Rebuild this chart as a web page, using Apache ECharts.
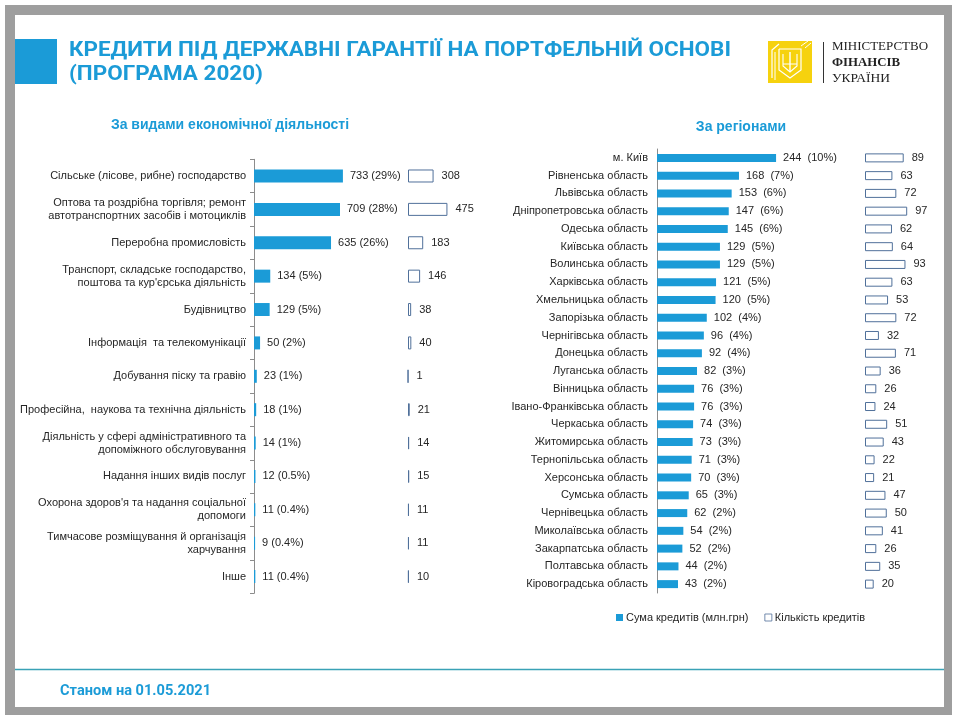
<!DOCTYPE html>
<html>
<head>
<meta charset="utf-8">
<script src="https://cdn.jsdelivr.net/npm/echarts@6/dist/echarts.min.js"></script>
<style>
html,body{margin:0;padding:0;background:#fff;}
#main{width:960px;height:720px;}
</style>
</head>
<body>
<div id="main"></div>
<script>
// ---------- DATA ----------
const sectorNames = [
  'Сільське (лісове, рибне) господарство',
  'Оптова та роздрібна торгівля; ремонт\nавтотранспортних засобів і мотоциклів',
  'Переробна промисловість',
  'Транспорт, складське господарство,\nпоштова та кур\'єрська діяльність',
  'Будівництво',
  'Інформація  та телекомунікації',
  'Добування піску та гравію',
  'Професійна,  наукова та технічна діяльність',
  'Діяльність у сфері адміністративного та\nдопоміжного обслуговування',
  'Надання інших видів послуг',
  'Охорона здоров\'я та надання соціальної\nдопомоги',
  'Тимчасове розміщування й організація\nхарчування',
  'Інше'
];
const sectorSums = [733, 709, 635, 134, 129, 50, 23, 18, 14, 12, 11, 9, 11];
const sectorShares = ['29%', '28%', '26%', '5%', '5%', '2%', '1%', '1%', '1%', '0.5%', '0.4%', '0.4%', '0.4%'];
const sectorCounts = [308, 475, 183, 146, 38, 40, 1, 21, 14, 15, 11, 11, 10];

const regionNames = [
  'м. Київ', 'Рівненська область', 'Львівська область', 'Дніпропетровська область',
  'Одеська область', 'Київська область', 'Волинська область', 'Харківська область',
  'Хмельницька область', 'Запорізька область', 'Чернігівська область', 'Донецька область',
  'Луганська область', 'Вінницька область', 'Івано-Франківська область', 'Черкаська область',
  'Житомирська область', 'Тернопільська область', 'Херсонська область', 'Сумська область',
  'Чернівецька область', 'Миколаївська область', 'Закарпатська область', 'Полтавська область',
  'Кіровоградська область'
];
const regionSums = [244, 168, 153, 147, 145, 129, 129, 121, 120, 102, 96, 92, 82, 76, 76, 74, 73, 71, 70, 65, 62, 54, 52, 44, 43];
const regionShares = ['10%', '7%', '6%', '6%', '6%', '5%', '5%', '5%', '5%', '4%', '4%', '4%', '3%', '3%', '3%', '3%', '3%', '3%', '3%', '3%', '2%', '2%', '2%', '2%', '2%'];
const regionCounts = [89, 63, 72, 97, 62, 64, 93, 63, 53, 72, 32, 71, 36, 26, 24, 51, 43, 22, 21, 47, 50, 41, 26, 35, 20];

const seriesNames = ['Сума кредитів (млн.грн)', 'Кількість кредитів'];
const mainTitle = ['КРЕДИТИ ПІД ДЕРЖАВНІ ГАРАНТІЇ НА ПОРТФЕЛЬНІЙ ОСНОВІ', '(ПРОГРАМА 2020)'];
const leftSubtitle = 'За видами економічної діяльності';
const rightSubtitle = 'За регіонами';
const footerText = 'Станом на 01.05.2021';
const logoLines = ['МІНІСТЕРСТВО', 'ФІНАНСІВ', 'УКРАЇНИ'];

// ---------- STYLE ----------
const BLUE = '#1b9bd7';
const HOLLOW = '#50709a';
const TXT = '#262626';
const AXIS = '#8c8c8c';
const FONT = '"Liberation Sans", Arial, sans-serif';

const mctx = document.createElement('canvas').getContext('2d');
function fit(text, font, target) { mctx.font = font; return target / mctx.measureText(text).width; }

const titleFont = 'bold 21px Roboto';
const titleScale = fit(mainTitle[0], titleFont, 662);
const footFont = 'bold 15px Roboto';
const footScale = fit(footerText, footFont, 151);
const serif = '13px "Liberation Serif", serif';
const serifB = 'bold 13px "Liberation Serif", serif';

const chart = echarts.init(document.getElementById('main'), null, {renderer: 'canvas'});

const labelBase = {fontSize: 11, color: TXT, fontFamily: FONT};

const option = {
  animation: false,
  backgroundColor: '#fff',
  textStyle: {fontFamily: FONT},
  grid: [
    {left: 254, top: 159.3, width: 121.3, height: 434},
    {left: 408, top: 159.3, width: 83, height: 434},
    {left: 657, top: 149, width: 146.4, height: 444},
    {left: 865, top: 149, width: 43.5, height: 444}
  ],
  xAxis: [
    {gridIndex: 0, type: 'value', min: 0, max: 1000, show: false},
    {gridIndex: 1, type: 'value', min: 0, max: 1000, show: false},
    {gridIndex: 2, type: 'value', min: 0, max: 300, show: false},
    {gridIndex: 3, type: 'value', min: 0, max: 100, show: false}
  ],
  yAxis: [
    {gridIndex: 0, type: 'category', data: sectorNames, inverse: true,
      axisLine: {show: true, lineStyle: {color: AXIS}},
      axisTick: {show: true, length: 4, lineStyle: {color: AXIS}},
      axisLabel: {fontSize: 11, color: TXT, margin: 8, lineHeight: 13, fontFamily: FONT}},
    {gridIndex: 1, type: 'category', data: sectorNames, inverse: true, show: false},
    {gridIndex: 2, type: 'category', data: regionNames, inverse: true,
      axisLine: {show: true, lineStyle: {color: AXIS}},
      axisTick: {show: false},
      axisLabel: {fontSize: 11, color: TXT, margin: 9, fontFamily: FONT}},
    {gridIndex: 3, type: 'category', data: regionNames, inverse: true, show: false}
  ],
  legend: {
    data: [
      {name: seriesNames[0], itemStyle: {color: BLUE, borderWidth: 0}},
      {name: seriesNames[1], itemStyle: {color: '#fff', borderColor: HOLLOW, borderWidth: 0.8}}
    ],
    left: 616, top: 612, padding: 0,
    itemWidth: 7, itemHeight: 7, itemGap: 16, icon: 'rect',
    textStyle: {fontSize: 11, color: TXT, fontFamily: FONT, padding: [0, 0, 0, -2]}
  },
  series: [
    {type: 'bar', name: seriesNames[0], xAxisIndex: 0, yAxisIndex: 0, data: sectorSums, barWidth: 13,
      itemStyle: {color: BLUE},
      label: Object.assign({show: true, position: 'right', distance: 7,
        formatter: p => p.value + ' (' + sectorShares[p.dataIndex] + ')'}, labelBase)},
    {type: 'bar', name: seriesNames[1], xAxisIndex: 1, yAxisIndex: 1, data: sectorCounts, barWidth: 13,
      itemStyle: {color: '#fff', borderColor: HOLLOW, borderWidth: 1},
      label: Object.assign({show: true, position: 'right', distance: 8}, labelBase)},
    {type: 'bar', name: seriesNames[0], xAxisIndex: 2, yAxisIndex: 2, data: regionSums, barWidth: 8,
      itemStyle: {color: BLUE},
      label: Object.assign({show: true, position: 'right', distance: 7,
        formatter: p => p.value + '  (' + regionShares[p.dataIndex] + ')'}, labelBase)},
    {type: 'bar', name: seriesNames[1], xAxisIndex: 3, yAxisIndex: 3, data: regionCounts, barWidth: 9,
      itemStyle: {color: '#fff', borderColor: HOLLOW, borderWidth: 1},
      label: Object.assign({show: true, position: 'right', distance: 8}, labelBase)}
  ],
  graphic: [
    // frame
    {type: 'rect', shape: {x: 5, y: 5, width: 10, height: 710}, style: {fill: '#9e9e9e'}, silent: true},
    {type: 'rect', shape: {x: 944, y: 5, width: 8, height: 710}, style: {fill: '#9e9e9e'}, silent: true},
    {type: 'rect', shape: {x: 5, y: 5, width: 947, height: 10}, style: {fill: '#9e9e9e'}, silent: true},
    {type: 'rect', shape: {x: 5, y: 707, width: 947, height: 8}, style: {fill: '#9e9e9e'}, silent: true},
    // title block
    {type: 'rect', shape: {x: 15, y: 39, width: 42, height: 45}, style: {fill: BLUE}},
    {type: 'text', x: 69, y: 51, scaleX: titleScale, style: {text: mainTitle[0], font: titleFont, fill: BLUE, verticalAlign: 'middle'}},
    {type: 'text', x: 69, y: 75, scaleX: titleScale, style: {text: mainTitle[1], font: titleFont, fill: BLUE, verticalAlign: 'middle'}},
    // logo
    {type: 'rect', shape: {x: 768, y: 41, width: 44, height: 42}, style: {fill: '#f6d20e'}},
    {type: 'polyline', shape: {points: [[772, 78], [772, 50], [779, 44]]}, style: {stroke: '#fff', lineWidth: 1.2, fill: null}},
    {type: 'polyline', shape: {points: [[775, 80], [775, 52]]}, style: {stroke: '#fff', lineWidth: 1, fill: null}},
    {type: 'polyline', shape: {points: [[801, 46], [808, 41]]}, style: {stroke: '#fff', lineWidth: 1, fill: null}},
    {type: 'polyline', shape: {points: [[805, 48], [811, 43]]}, style: {stroke: '#fff', lineWidth: 1, fill: null}},
    {type: 'polyline', shape: {points: [[779, 49], [801, 49], [801, 70], [790, 78], [779, 70], [779, 49]]}, style: {stroke: '#fff', lineWidth: 1.2, fill: null}},
    {type: 'polyline', shape: {points: [[790, 52], [790, 72]]}, style: {stroke: '#fff', lineWidth: 1.4, fill: null}},
    {type: 'polyline', shape: {points: [[783, 54], [783, 66], [790, 72], [797, 66], [797, 54]]}, style: {stroke: '#fff', lineWidth: 1.1, fill: null}},
    {type: 'polyline', shape: {points: [[783, 64], [797, 64]]}, style: {stroke: '#fff', lineWidth: 1, fill: null}},
    {type: 'line', shape: {x1: 823.5, y1: 42, x2: 823.5, y2: 83}, style: {stroke: '#333', lineWidth: 1}},
    {type: 'text', x: 832, y: 47, scaleX: fit(logoLines[0], serif, 96), style: {text: logoLines[0], font: serif, fill: '#222', verticalAlign: 'middle'}},
    {type: 'text', x: 832, y: 63, scaleX: fit(logoLines[1], serifB, 68), style: {text: logoLines[1], font: serifB, fill: '#222', verticalAlign: 'middle'}},
    {type: 'text', x: 832, y: 79, scaleX: fit(logoLines[2], serif, 58), style: {text: logoLines[2], font: serif, fill: '#222', verticalAlign: 'middle'}},
    // subtitles
    {type: 'text', x: 230, y: 125, style: {text: leftSubtitle, font: 'bold 14px ' + FONT, fill: BLUE, align: 'center', verticalAlign: 'middle'}},
    {type: 'text', x: 741, y: 127, style: {text: rightSubtitle, font: 'bold 14px ' + FONT, fill: BLUE, align: 'center', verticalAlign: 'middle'}},
    // footer
    {type: 'line', shape: {x1: 15, y1: 669.5, x2: 944, y2: 669.5}, style: {stroke: '#3aa2b6', lineWidth: 1.5}},
    {type: 'text', x: 60, y: 691, scaleX: footScale, style: {text: footerText, font: footFont, fill: BLUE, verticalAlign: 'middle'}}
  ]
};
chart.setOption(option);
</script>
</body>
</html>
